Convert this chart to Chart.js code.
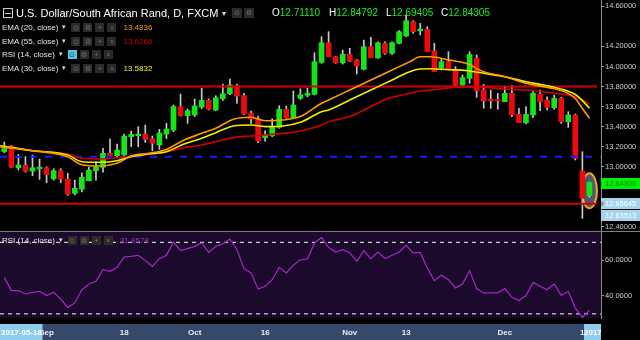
<!DOCTYPE html>
<html>
<head>
<meta charset="utf-8">
<script src="https://cdn.jsdelivr.net/npm/chart.js@4"></script>
<style>
  body { margin: 0; background: #000; width: 640px; height: 340px; overflow: hidden; font-family: "Liberation Sans", Arial, sans-serif; }
  #wrap { position: relative; width: 640px; height: 340px; }
  canvas { position: absolute; left: 0; }
  #main { top: 0; }
  #rsi { top: 231px; }
  #sep { position: absolute; left: 0; top: 231px; width: 640px; height: 1px; background: #7d7d7d; }
  .row { position: absolute; left: 2px; height: 10px; display: flex; align-items: center; font-size: 8px; color: #e6e6e6; white-space: nowrap; }
  .row b { font-weight: normal; font-size: 7px; margin-left: 4px; color: #ddd; }
  .row i { display: inline-block; width: 9px; height: 9px; margin-left: 3px; background: #2b2b2b; color: #707070; font-style: normal; font-size: 7px; line-height: 9px; text-align: center; }
  .row i.first { margin-left: 5px; }
  .row i.on { background: #56c4e6; color: #1b3d4a; }
  .row .v { margin-left: 7px; }
  .t { position: absolute; white-space: nowrap; line-height: 1; }
  .g { color: #1ded1d; }
</style>
</head>
<body>
<div id="wrap">
  <canvas id="main" width="640" height="231"></canvas>
  <canvas id="rsi" width="640" height="109"></canvas>
  <div id="sep"></div>

  <!-- titre + OHLC -->
  <div class="row" style="top:7px;left:3px;height:12px;font-size:11px;color:#fff">
    <span style="display:inline-block;width:8px;height:8px;border:1px solid #ccc;position:relative"><span style="position:absolute;left:1px;top:3.5px;width:6px;height:1px;background:#ccc"></span></span>
    <span style="margin-left:3px">U.S. Dollar/South African Rand, D, FXCM</span><b style="font-size:8px">▾</b>
    <i class="first" style="width:10px;height:10px;margin-left:6px">⊙</i><i style="width:10px;height:10px;margin-left:2px">⚙</i>
  </div>
  <div class="t" style="left:272px;top:8px;font-size:10px;color:#fff">O<span class="g">12.71110</span></div>
  <div class="t" style="left:329px;top:8px;font-size:10px;color:#fff">H<span class="g">12.84792</span></div>
  <div class="t" style="left:386px;top:8px;font-size:10px;color:#fff">L<span class="g">12.69405</span></div>
  <div class="t" style="left:441px;top:8px;font-size:10px;color:#fff">C<span class="g">12.84305</span></div>

  <!-- légende des indicateurs -->
  <div class="row" style="top:22px"><span>EMA (20, close)</span><b>▾</b><i class="first">⊙</i><i>⚙</i><i>+</i><i>×</i><span class="v" style="color:#ff9a00">13.4836</span></div>
  <div class="row" style="top:36px"><span>EMA (55, close)</span><b>▾</b><i class="first">⊙</i><i>⚙</i><i>+</i><i>×</i><span class="v" style="color:#d00000">13.6266</span></div>
  <div class="row" style="top:49px"><span>RSI (14, close)</span><b>▾</b><i class="first on">⊙</i><i>⚙</i><i>+</i><i>×</i></div>
  <div class="row" style="top:63px"><span>EMA (30, close)</span><b>▾</b><i class="first">⊙</i><i>⚙</i><i>+</i><i>×</i><span class="v" style="color:#f5ec00">13.5832</span></div>

  <div class="row" style="top:235px"><span>RSI (14, close)</span><b>▾</b><i class="first">⊙</i><i>⚙</i><i>+</i><i>×</i><span class="v" style="color:#a030b8">31.8578</span></div>
</div>

<script>
// bougies journalières (24 août -> 19 déc. 2017)
const open  = [13.150, 13.207, 12.990, 13.014, 12.957, 12.980, 12.990, 12.880, 12.960, 12.877,
               12.735, 12.775, 12.860, 12.960, 12.994, 13.134, 13.110, 13.117, 13.300, 13.310,
               13.326, 13.279, 13.217, 13.326, 13.366, 13.600, 13.509, 13.516, 13.596, 13.662,
               13.566, 13.678, 13.728, 13.808, 13.708, 13.533, 13.479, 13.290, 13.309, 13.393,
               13.573, 13.489, 13.682, 13.712, 13.722, 14.041, 14.237, 14.097, 14.037, 14.121,
               14.064, 13.972, 14.197, 14.087, 14.231, 14.131, 14.231, 14.304, 14.447, 14.357,
               14.370, 14.154, 13.988, 14.047, 13.965, 13.815, 13.882, 14.081, 13.765, 13.665,
               13.664, 13.649, 13.732, 13.522, 13.439, 13.516, 13.725, 13.665, 13.589, 13.682,
               13.449, 13.516, 12.957, 12.7111];
const high  = [13.246, 13.212, 13.124, 13.100, 13.117, 13.077, 13.000, 12.980, 12.980, 12.934,
               12.867, 12.940, 12.994, 13.050, 13.184, 13.276, 13.226, 13.326, 13.356, 13.400,
               13.416, 13.306, 13.373, 13.433, 13.616, 13.725, 13.576, 13.675, 13.782, 13.675,
               13.708, 13.825, 13.875, 13.825, 13.732, 13.556, 13.506, 13.359, 13.479, 13.609,
               13.605, 13.755, 13.778, 13.782, 14.137, 14.297, 14.347, 14.100, 14.164, 14.181,
               14.070, 14.264, 14.291, 14.247, 14.247, 14.247, 14.357, 14.513, 14.457, 14.430,
               14.397, 14.231, 14.077, 14.147, 13.998, 13.915, 14.147, 14.114, 13.822, 13.765,
               13.732, 13.805, 13.812, 13.583, 13.600, 13.758, 13.765, 13.698, 13.715, 13.692,
               13.549, 13.526, 13.150, 12.84792];
const low   = [13.140, 12.990, 12.967, 12.947, 12.910, 12.874, 12.840, 12.867, 12.840, 12.715,
               12.720, 12.748, 12.860, 12.867, 12.947, 13.110, 13.100, 13.107, 13.200, 13.200,
               13.243, 13.160, 13.174, 13.280, 13.350, 13.505, 13.433, 13.500, 13.580, 13.566,
               13.559, 13.662, 13.718, 13.632, 13.520, 13.433, 13.240, 13.256, 13.300, 13.383,
               13.483, 13.483, 13.672, 13.698, 13.715, 14.031, 14.097, 14.031, 14.024, 14.047,
               13.925, 13.965, 14.087, 14.080, 14.121, 14.121, 14.224, 14.297, 14.330, 14.314,
               14.147, 13.948, 13.965, 13.965, 13.805, 13.810, 13.832, 13.692, 13.583, 13.583,
               13.573, 13.649, 13.499, 13.439, 13.426, 13.489, 13.559, 13.566, 13.573, 13.433,
               13.393, 13.067, 12.485, 12.69405];
const close = [13.206, 12.994, 13.017, 12.957, 12.990, 12.996, 12.920, 12.960, 12.877, 12.727,
               12.785, 12.895, 12.967, 12.999, 13.134, 13.110, 13.166, 13.306, 13.323, 13.326,
               13.273, 13.233, 13.336, 13.376, 13.600, 13.509, 13.559, 13.606, 13.662, 13.573,
               13.688, 13.728, 13.815, 13.705, 13.526, 13.476, 13.256, 13.316, 13.393, 13.573,
               13.489, 13.615, 13.718, 13.732, 14.047, 14.237, 14.097, 14.037, 14.121, 14.054,
               14.004, 14.197, 14.087, 14.237, 14.131, 14.237, 14.347, 14.457, 14.347, 14.374,
               14.147, 13.948, 14.048, 13.972, 13.815, 13.888, 14.121, 13.758, 13.658, 13.658,
               13.656, 13.732, 13.516, 13.439, 13.522, 13.732, 13.649, 13.593, 13.682, 13.449,
               13.516, 13.084, 12.685, 12.84305];

// moyennes mobiles (position en nombre de séances)
const emaAt = [-0.6, 4, 9, 11, 13.5, 16, 18, 20.5, 23, 25.5, 28, 30, 32.5, 35, 37, 39.5, 42, 45,
               46, 49, 52, 54.5, 57.5, 59, 60.5, 63, 65.5, 68, 71, 74, 76.5, 79.5, 81, 82, 83];
const ema20 = [13.20, 13.16, 13.10, 13.02, 13.007, 13.034, 13.107, 13.134, 13.173, 13.267, 13.333, 13.383,
               13.473, 13.493, 13.459, 13.466, 13.50, 13.633, 13.665, 13.765, 13.865, 13.948, 14.047, 14.097,
               14.097, 14.066, 14.031, 13.948, 13.898, 13.832, 13.798, 13.748, 13.68, 13.58, 13.484];
const ema30 = [13.21, 13.16, 13.117, 13.05, 13.044, 13.06, 13.10, 13.127, 13.15, 13.227, 13.283, 13.34,
               13.406, 13.416, 13.40, 13.406, 13.443, 13.549, 13.566, 13.665, 13.765, 13.848, 13.948, 13.975,
               13.978, 13.968, 13.96, 13.932, 13.898, 13.848, 13.815, 13.765, 13.72, 13.66, 13.583];
const ema55 = [13.20, 13.16, 13.127, 13.084, 13.077, 13.09, 13.107, 13.127, 13.15, 13.19, 13.217, 13.25,
               13.29, 13.306, 13.316, 13.333, 13.356, 13.416, 13.449, 13.50, 13.60, 13.682, 13.732, 13.755,
               13.765, 13.785, 13.795, 13.79, 13.775, 13.765, 13.748, 13.72, 13.70, 13.665, 13.627];

const rsi = [50.4, 43.0, 43.0, 41.1, 42.0, 42.6, 40.2, 42.0, 38.3, 33.6, 36.1, 43.5, 46.7, 48.2, 54.7,
             53.8, 56.0, 61.8, 62.2, 62.8, 59.8, 56.6, 60.9, 62.8, 70.2, 65.4, 66.5, 67.8, 69.7, 64.4,
             67.8, 69.1, 71.9, 65.9, 55.3, 52.9, 43.9, 45.4, 49.1, 56.0, 52.9, 57.2, 60.3, 60.7, 69.7,
             72.8, 67.2, 64.6, 65.9, 64.1, 59.4, 65.4, 60.9, 64.6, 60.9, 62.8, 64.6, 68.4, 64.1, 64.4,
             55.7, 48.6, 51.6, 49.1, 44.5, 46.7, 54.2, 44.1, 41.7, 41.7, 41.7, 44.1, 39.2, 37.4, 40.2,
             47.6, 45.4, 43.5, 46.7, 40.3, 42.6, 33.2, 28.0, 31.9];

const levels = [13.8, 13.1, 12.63];          // lignes horizontales tracées
const axisTags = ['12.65645', '12.63513'];   // étiquettes de la ligne basse
const priceTicks = [14.6, 14.2, 14.0, 13.8, 13.6, 13.4, 13.2, 13.0, 12.8, 12.6, 12.4];
const rsiTicks = [60, 40];
const rsiBands = [70, 30];
const tickIdx = [6, 17, 27, 37, 49, 57, 71];
const tickText = ['Sep', '18', 'Oct', '16', 'Nov', '13', 'Dec'];

const xMin = -0.61, xMax = 84.64;
const upColor = '#14e614', downColor = '#ee0a0a', wickColor = '#c8c8c8';

Chart.defaults.font.family = '"Liberation Sans", Arial, sans-serif';

const flat = (v, x1 = xMax) => [{ x: xMin, y: v }, { x: x1, y: v }];
const emaLine = (vals, color) => ({
  type: 'line', order: 1,
  data: emaAt.map((x, k) => ({ x, y: vals[k] })),
  borderColor: color, borderWidth: 1.6, pointRadius: 0, cubicInterpolationMode: 'monotone'
});
// pas de marge automatique autour des axes : la zone de tracé va jusqu'aux bords
const noPad = s => { s.paddingTop = 0; s.paddingBottom = 0; s.paddingLeft = 0; s.paddingRight = 0; };

const mainPlugin = {
  id: 'mainPlugin',
  beforeDatasetsDraw(chart) {
    // ellipse autour de la dernière bougie
    const { ctx, scales: { x, y } } = chart;
    const last = close.length - 1;
    const cx = x.getPixelForValue(last);
    const cy = y.getPixelForValue((high[last] + low[last]) / 2);
    ctx.save();
    ctx.beginPath();
    ctx.ellipse(cx, cy + 1, 7.5, 17.5, 0, 0, Math.PI * 2);
    ctx.fillStyle = '#4b596b';
    ctx.fill();
    ctx.lineWidth = 2;
    ctx.strokeStyle = '#f5a623';
    ctx.stroke();
    ctx.restore();
  },
  afterDraw(chart) {
    const { ctx, scales: { y } } = chart;
    const box = (cy, bg, fg, text) => {
      ctx.fillStyle = bg;
      ctx.fillRect(601, Math.round(cy - 5.5), 39, 11);
      ctx.fillStyle = fg;
      ctx.font = '7.5px "Liberation Sans", Arial, sans-serif';
      ctx.textBaseline = 'middle';
      ctx.fillText(text, 605, cy + 0.5);
    };
    ctx.save();
    const last = close[close.length - 1];
    box(y.getPixelForValue(last) + 1, '#00ee00', '#008a00', last.toFixed(5));
    const ly = y.getPixelForValue(levels[2]);
    box(ly, '#a6d4ee', '#ffffff', axisTags[0]);
    box(ly + 12, '#a6d4ee', '#ffffff', axisTags[1]);
    ctx.fillStyle = '#9a9a9a';
    ctx.fillRect(601, ly - 2, 3, 4);
    ctx.restore();
  }
};

new Chart(document.getElementById('main'), {
  type: 'bar',
  data: {
    datasets: [
      emaLine(ema20, '#ff9a00'),
      emaLine(ema30, '#f5ec00'),
      emaLine(ema55, '#d00000'),
      { type: 'line', order: 1, data: flat(levels[0], 84.07), borderColor: '#d40000', borderWidth: 2, pointRadius: 0 },
      { type: 'line', order: 1, data: flat(levels[1]), borderColor: '#1818ff', borderWidth: 2, borderDash: [7, 8], pointRadius: 0 },
      { type: 'line', order: 1, data: flat(levels[2], 84.07), borderColor: '#d40000', borderWidth: 2, pointRadius: 0 },
      {
        type: 'bar', order: 3, grouped: false, barThickness: 1,
        data: close.map((c, i) => ({ x: i, y: [low[i], high[i]] })),
        backgroundColor: wickColor
      },
      {
        type: 'bar', order: 2, grouped: false, barThickness: 5, minBarLength: 1.5,
        data: close.map((c, i) => ({ x: i, y: [open[i], c] })),
        backgroundColor: ctx => close[ctx.dataIndex] >= open[ctx.dataIndex] ? upColor : downColor
      }
    ]
  },
  options: {
    responsive: false, animation: false, events: [], devicePixelRatio: 1,
    layout: { padding: 0 },
    plugins: { legend: { display: false }, tooltip: { enabled: false } },
    scales: {
      x: { type: 'linear', min: xMin, max: xMax, offset: false, display: false },
      y: {
        position: 'right', min: 12.359, max: 14.663,
        afterFit: s => { s.width = 39; noPad(s); },
        afterBuildTicks: s => { s.ticks = priceTicks.map(v => ({ value: v })); },
        ticks: { color: '#cccccc', font: { size: 7.5 }, padding: 1, callback: v => v.toFixed(5) },
        grid: { drawOnChartArea: false, tickLength: 3, color: '#999' },
        border: { color: '#8a8a8a' }
      }
    }
  },
  plugins: [mainPlugin]
});

const rsiPlugin = {
  id: 'rsiPlugin',
  beforeDraw(chart) {
    const { ctx, chartArea: a } = chart;
    ctx.save();
    ctx.fillStyle = '#1b0a2c';
    ctx.fillRect(a.left, a.top, a.right - a.left, a.bottom - a.top);
    ctx.fillStyle = '#36496a';
    ctx.fillRect(0, 93, a.right, 16);
    ctx.restore();
  },
  afterDraw(chart) {
    const { ctx } = chart;
    ctx.save();
    ctx.font = 'bold 8px "Liberation Sans", Arial, sans-serif';
    ctx.textBaseline = 'middle';
    ctx.fillStyle = '#8fcdef';
    ctx.fillRect(0, 93, 42.5, 16);
    ctx.fillStyle = '#ffffff';
    ctx.fillText('2017-05-18', 1, 101.5);
    ctx.fillStyle = '#e6ebf2';
    ctx.fillText('1', 580, 101.5);
    ctx.fillStyle = '#8fcdef';
    ctx.fillRect(584, 93, 17, 16);
    ctx.beginPath();
    ctx.rect(584, 93, 17, 16);
    ctx.clip();
    ctx.fillStyle = '#ffffff';
    ctx.fillText('2017', 584, 101.5);
    ctx.restore();
  }
};

new Chart(document.getElementById('rsi'), {
  type: 'line',
  data: {
    datasets: [
      { data: rsi.map((v, i) => ({ x: i, y: v })), borderColor: '#a626c8', borderWidth: 1.2, pointRadius: 0 },
      { data: flat(rsiBands[0]), borderColor: '#c8c8c8', borderWidth: 1.3, borderDash: [4, 4], pointRadius: 0 },
      { data: flat(rsiBands[1]), borderColor: '#c8c8c8', borderWidth: 1.3, borderDash: [4, 4], pointRadius: 0 }
    ]
  },
  options: {
    responsive: false, animation: false, events: [], devicePixelRatio: 1,
    layout: { padding: { top: 1 } },
    plugins: { legend: { display: false }, tooltip: { enabled: false } },
    scales: {
      x: {
        type: 'linear', min: xMin, max: xMax, offset: false,
        afterFit: s => { s.height = 22; noPad(s); },
        afterBuildTicks: s => { s.ticks = tickIdx.map(v => ({ value: v })); },
        ticks: { color: '#e6ebf2', font: { size: 8, weight: 'bold' }, padding: 10, autoSkip: false, maxRotation: 0,
                 callback: (v, k) => tickText[k] },
        grid: { display: false, drawTicks: false },
        border: { display: false }
      },
      y: {
        position: 'right', min: 27.65, max: 75.83,
        afterFit: s => { s.width = 39; noPad(s); },
        afterBuildTicks: s => { s.ticks = rsiTicks.map(v => ({ value: v })); },
        ticks: { color: '#cccccc', font: { size: 7.5 }, padding: 1, callback: v => v.toFixed(4) },
        grid: { drawOnChartArea: false, tickLength: 3, color: '#999' },
        border: { color: '#8a8a8a' }
      }
    }
  },
  plugins: [rsiPlugin]
});
</script>
</body>
</html>
